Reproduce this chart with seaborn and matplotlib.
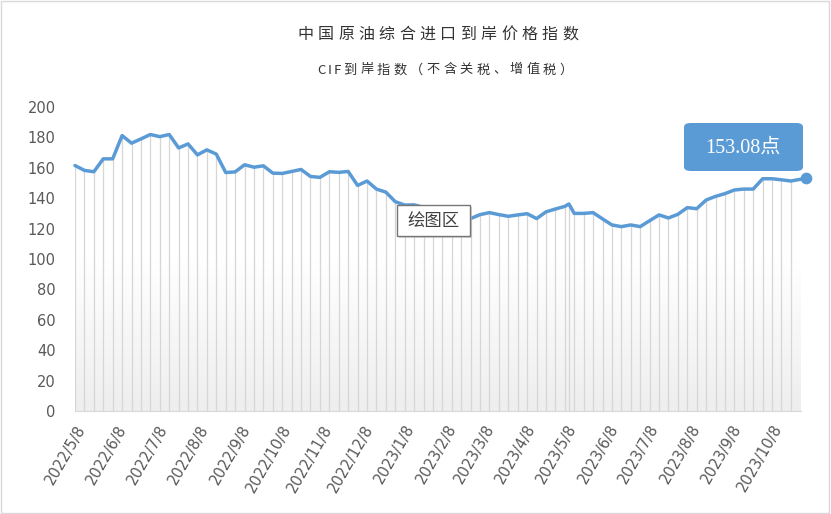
import numpy as np
import pandas as pd
import seaborn as sns
import matplotlib
matplotlib.use('Agg')
import matplotlib.pyplot as plt
import matplotlib.dates as mdates
from matplotlib.colors import LinearSegmentedColormap
from matplotlib.patches import FancyBboxPatch, Rectangle

# weekly index values (one extra print on 2023/5/10)
values = [161.5, 158.3, 157.4, 165.9, 165.9, 181.2, 176.2, 179.0, 181.9, 180.5,
          181.9, 173.1, 175.7, 168.5, 171.8, 169.0, 156.9, 157.3, 162.0, 160.4,
          161.3, 156.5, 156.3, 157.6, 158.9, 154.3, 153.7, 157.4, 157.0, 157.6,
          148.4, 151.3, 146.0, 144.0, 137.7, 135.5, 135.6, 134.0, 132.0, 130.0,
          128.5, 127.5, 126.6, 129.2, 130.5, 129.2, 128.1, 129.0, 129.8, 126.6,
          131.0, 132.9, 134.6, 136.2, 130.0, 130.0, 130.5, 126.4, 122.4, 121.3,
          122.4, 121.3, 125.2, 129.0, 127.0, 129.4, 133.8, 133.1, 138.8, 141.2,
          143.0, 145.4, 146.0, 146.0, 152.8, 152.8, 152.1, 151.3, 153.08]
dates = list(pd.date_range('2022-05-08', periods=77, freq='7D'))
dates.insert(53, pd.Timestamp('2023-05-10'))
dates.append(pd.Timestamp('2023-11-02'))

tick_dates = pd.date_range('2022-05-08', '2023-10-08', freq=pd.DateOffset(months=1))
tick_labels = [f'{d.year}/{d.month}/{d.day}' for d in tick_dates]

title = '中国原油综合进口到岸价格指数'
subtitle = 'CIF到岸指数（不含关税、增值税）'
last_label = '153.08点'
tooltip = '绘图区'

df = pd.DataFrame({'date': dates, 'value': values})

sns.set_style('white')
plt.rcParams['font.family'] = ['Noto Sans CJK SC', 'DejaVu Sans']

W, H = 831, 514
fig = plt.figure(figsize=(W / 100, H / 100), dpi=100)
ax = fig.add_axes([75 / W, 1 - 411 / H, (801 - 75) / W, (411 - 107) / H])

blue = '#5b9bd5'
x0 = pd.Timestamp('2022-05-08')
x1 = x0 + pd.Timedelta(days=539.5)

# gradient fill under the line
poly = ax.fill_between(df['date'], df['value'], 0, color='none', lw=0)
cmap = LinearSegmentedColormap.from_list('g', ['#ffffff', '#ffffff', '#eeeeee'])
grad = ax.imshow(np.linspace(0, 1, 256).reshape(-1, 1), cmap=cmap, aspect='auto',
                 extent=[mdates.date2num(x0), mdates.date2num(dates[-1]), 0, 200],
                 origin='upper', zorder=0)
grad.set_clip_path(poly.get_paths()[0], transform=ax.transData)

ax.vlines(df['date'], 0, df['value'], color='#d6d6d6', lw=0.9, zorder=1)
sns.lineplot(data=df, x='date', y='value', color=blue, lw=2.5, ax=ax, zorder=3)
for ln in ax.get_lines():
    ln.set_clip_on(False)
ax.scatter([dates[-1]], [values[-1]], s=55, color=blue, zorder=5, clip_on=False)

ax.set_xlim(x0, x1)
ax.set_ylim(0, 200)
ax.set_yticks(range(0, 201, 20))
ax.set_xticks(tick_dates)
ax.set_xticklabels(tick_labels, rotation=60, ha='right', rotation_mode='anchor',
                   family='DejaVu Sans')
ax.set_xlabel('')
ax.set_ylabel('')
for s in ['top', 'right', 'left']:
    ax.spines[s].set_visible(False)
ax.spines['bottom'].set_color('#d9d9d9')
ax.tick_params(axis='x', length=5, color='#d9d9d9', labelsize=10.5, labelcolor='#595959', pad=3)
ax.tick_params(axis='y', length=0, labelsize=10.5, labelcolor='#595959', pad=14)
for lab in ax.get_yticklabels():
    lab.set_family('DejaVu Sans')


def spaced(x, y, s, size, pitch, color):
    for ch in s:
        w = pitch if ord(ch) > 255 else pitch / 2
        fig.text((x + w / 2) / W, 1 - y / H, ch, ha='center', va='center',
                 fontsize=size, color=color)
        x += w


spaced(295, 34, title, 11.5, 20.4, '#333333')
spaced(317, 70, subtitle, 9.5, 16.6, '#333333')


def px(x, y):
    return x / W, 1 - y / H


# callout for the latest value
bx, by = px(684, 171)
box = FancyBboxPatch((bx, by), 119 / W, 48 / H, boxstyle='round,pad=0,rounding_size=0.008',
                     transform=fig.transFigure, facecolor=blue, edgecolor='none')
fig.patches.append(box)
fig.text(*px(743, 148), last_label, ha='center', va='center', color='white', fontsize=14.5,
         family=['Liberation Serif', 'Noto Sans CJK SC'])

# plot-area tooltip
sx, sy = px(399, 238)
fig.patches.append(Rectangle((sx, sy), 73 / W, 31 / H, transform=fig.transFigure,
                             facecolor='#bbbbbb', edgecolor='none', alpha=0.6, zorder=8))
tx, ty = px(397, 236)
fig.patches.append(Rectangle((tx, ty), 73 / W, 31 / H, transform=fig.transFigure,
                             facecolor='white', edgecolor='#767676', lw=1, zorder=9))
fig.text(*px(433.5, 221), tooltip, ha='center', va='center', fontsize=12.5,
         color='#404040', zorder=10)

fig.patches.append(Rectangle((0.001, 0.001), 0.997, 0.997, transform=fig.transFigure,
                             facecolor='none', edgecolor='#d9d9d9', lw=1))

fig.savefig('out.png', dpi=100)
